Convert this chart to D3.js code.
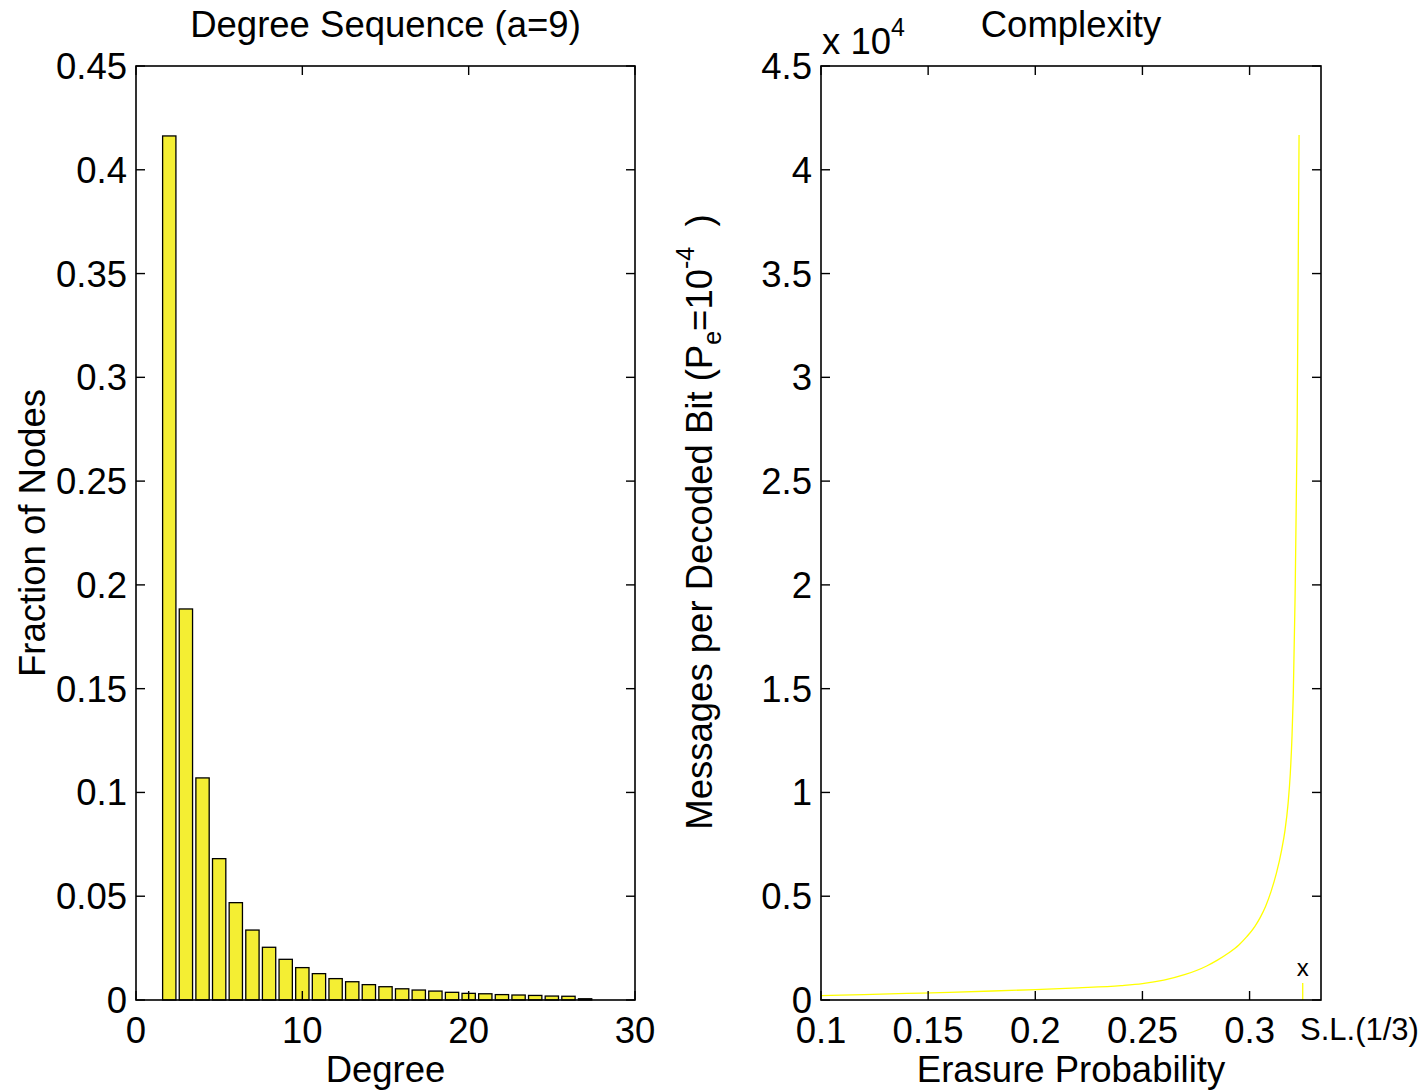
<!DOCTYPE html>
<html>
<head>
<meta charset="utf-8">
<script src="https://cdn.jsdelivr.net/npm/d3@7"></script>
<style>
  html, body { margin: 0; padding: 0; background: #fff; }
  svg text { font-family: "Liberation Sans", Arial, Helvetica, sans-serif; fill: #000; }
</style>
</head>
<body>
<svg id="chart" width="1426" height="1092"></svg>
<script>
// Degree distribution (fraction of nodes per degree)
const degrees = [2, 3, 4, 5, 6, 7, 8, 9, 10, 11, 12, 13, 14, 15, 16, 17, 18, 19, 20, 21, 22, 23, 24, 25, 26, 27];
const fractions = [0.4163, 0.1884, 0.1070, 0.0681, 0.0469, 0.0337, 0.0254, 0.0196, 0.0156, 0.0127,
                   0.0103, 0.0088, 0.0074, 0.0064, 0.0054, 0.0048, 0.0043, 0.0037, 0.0032, 0.0030,
                   0.0026, 0.0024, 0.0022, 0.0019, 0.0018, 0.0006];
const degreeTicks = [0, 10, 20, 30];
const fractionTicks = [0, 0.05, 0.1, 0.15, 0.2, 0.25, 0.3, 0.35, 0.4, 0.45];
const fractionTickLabels = ["0", "0.05", "0.1", "0.15", "0.2", "0.25", "0.3", "0.35", "0.4", "0.45"];

// Decoding complexity vs. erasure probability
const erasureProb = [0.10, 0.12, 0.14, 0.16, 0.18, 0.20, 0.22, 0.24, 0.25, 0.26, 0.27, 0.28,
                     0.285, 0.29, 0.295, 0.2987, 0.3025, 0.305, 0.3075, 0.31, 0.3125, 0.315,
                     0.3165, 0.318, 0.319, 0.3198, 0.3204, 0.3212, 0.3222, 0.3231];
const messages = [210, 262, 315, 372, 433, 500, 585, 695, 790, 960, 1230, 1640,
                  1920, 2250, 2650, 3050, 3550, 3980, 4520, 5220, 6100, 7250,
                  8150, 9500, 10900, 12700, 14700, 19200, 27500, 41675];
const probTicks = [0.1, 0.15, 0.2, 0.25, 0.3];
const probTickLabels = ["0.1", "0.15", "0.2", "0.25", "0.3"];
const msgTicks = [0, 5000, 10000, 15000, 20000, 25000, 30000, 35000, 40000, 45000];
const msgTickLabels = ["0", "0.5", "1", "1.5", "2", "2.5", "3", "3.5", "4", "4.5"];
const limitMarker = { p: 0.3248, h: 820 };

const svg = d3.select("#chart");
const FONT = 36.5;
const SMALL = 25;
const TICK = 9;

function box(g, x0, x1, y0, y1) {
  g.append("rect")
    .attr("x", x0).attr("y", y1)
    .attr("width", x1 - x0).attr("height", y0 - y1)
    .attr("fill", "none").attr("stroke", "#000").attr("stroke-width", 1.6);
}

// ---------- Left panel: degree sequence ----------
const xL = d3.scaleLinear().domain([0, 30]).range([136, 635]);
const yL = d3.scaleLinear().domain([0, 0.45]).range([1000, 66]);
const gL = svg.append("g");

const barW = (xL(1) - xL(0)) * 0.8;
gL.selectAll("rect.bar")
  .data(degrees.map((d, i) => ({ d, v: fractions[i] })))
  .join("rect")
  .attr("class", "bar")
  .attr("x", p => xL(p.d) - barW / 2)
  .attr("y", p => yL(p.v))
  .attr("width", barW)
  .attr("height", p => yL(0) - yL(p.v))
  .attr("fill", "#f4ee33")
  .attr("stroke", "#000")
  .attr("stroke-width", 1.3);

box(gL, xL(0), xL(30), yL(0), yL(0.45));

degreeTicks.forEach(t => {
  gL.append("line").attr("x1", xL(t)).attr("x2", xL(t)).attr("y1", yL(0)).attr("y2", yL(0) - TICK)
    .attr("stroke", "#000").attr("stroke-width", 1.4);
  gL.append("line").attr("x1", xL(t)).attr("x2", xL(t)).attr("y1", yL(0.45)).attr("y2", yL(0.45) + TICK)
    .attr("stroke", "#000").attr("stroke-width", 1.4);
  gL.append("text").attr("x", xL(t)).attr("y", 1043).attr("text-anchor", "middle")
    .attr("font-size", FONT).text(t);
});
fractionTicks.forEach((t, i) => {
  gL.append("line").attr("x1", xL(0)).attr("x2", xL(0) + TICK).attr("y1", yL(t)).attr("y2", yL(t))
    .attr("stroke", "#000").attr("stroke-width", 1.4);
  gL.append("line").attr("x1", xL(30)).attr("x2", xL(30) - TICK).attr("y1", yL(t)).attr("y2", yL(t))
    .attr("stroke", "#000").attr("stroke-width", 1.4);
  gL.append("text").attr("x", xL(0) - 9).attr("y", yL(t)).attr("dy", "0.355em")
    .attr("text-anchor", "end").attr("font-size", FONT).text(fractionTickLabels[i]);
});

gL.append("text").attr("x", (xL(0) + xL(30)) / 2).attr("y", 37).attr("text-anchor", "middle")
  .attr("font-size", FONT).text("Degree Sequence (a=9)");
gL.append("text").attr("x", (xL(0) + xL(30)) / 2).attr("y", 1082).attr("text-anchor", "middle")
  .attr("font-size", FONT).text("Degree");
gL.append("text").attr("transform", `translate(45,${(yL(0) + yL(0.45)) / 2}) rotate(-90)`)
  .attr("text-anchor", "middle").attr("font-size", FONT).text("Fraction of Nodes");

// ---------- Right panel: complexity ----------
const xR = d3.scaleLinear().domain([0.1, 1 / 3]).range([821, 1321]);
const yR = d3.scaleLinear().domain([0, 45000]).range([1000, 66]);
const gR = svg.append("g");

const line = d3.line()
  .x((d, i) => xR(erasureProb[i]))
  .y(d => yR(d))
  .curve(d3.curveMonotoneX);
gR.append("path").datum(messages).attr("d", line)
  .attr("fill", "none").attr("stroke", "#ffff00").attr("stroke-width", 1.3);

// marker near the threshold
gR.append("line")
  .attr("x1", xR(limitMarker.p)).attr("x2", xR(limitMarker.p))
  .attr("y1", yR(0)).attr("y2", yR(limitMarker.h))
  .attr("stroke", "#ffff00").attr("stroke-width", 1.3);
gR.append("text").attr("x", xR(limitMarker.p)).attr("y", 976).attr("text-anchor", "middle")
  .attr("font-size", 24).text("x");

box(gR, xR(0.1), xR(1 / 3), yR(0), yR(45000));

probTicks.forEach((t, i) => {
  gR.append("line").attr("x1", xR(t)).attr("x2", xR(t)).attr("y1", yR(0)).attr("y2", yR(0) - TICK)
    .attr("stroke", "#000").attr("stroke-width", 1.4);
  gR.append("line").attr("x1", xR(t)).attr("x2", xR(t)).attr("y1", yR(45000)).attr("y2", yR(45000) + TICK)
    .attr("stroke", "#000").attr("stroke-width", 1.4);
  gR.append("text").attr("x", xR(t)).attr("y", 1043).attr("text-anchor", "middle")
    .attr("font-size", FONT).text(probTickLabels[i]);
});
gR.append("text").attr("x", 1300).attr("y", 1040).attr("text-anchor", "start")
  .attr("font-size", 31).text("S.L.(1/3)");

msgTicks.forEach((t, i) => {
  gR.append("line").attr("x1", xR(0.1)).attr("x2", xR(0.1) + TICK).attr("y1", yR(t)).attr("y2", yR(t))
    .attr("stroke", "#000").attr("stroke-width", 1.4);
  gR.append("line").attr("x1", xR(1 / 3)).attr("x2", xR(1 / 3) - TICK).attr("y1", yR(t)).attr("y2", yR(t))
    .attr("stroke", "#000").attr("stroke-width", 1.4);
  gR.append("text").attr("x", xR(0.1) - 9).attr("y", yR(t)).attr("dy", "0.355em")
    .attr("text-anchor", "end").attr("font-size", FONT).text(msgTickLabels[i]);
});

// exponent label
const expo = gR.append("text").attr("x", 822).attr("y", 54).attr("font-size", FONT);
expo.append("tspan").text("x 10");
expo.append("tspan").attr("font-size", SMALL).attr("dy", -18).text("4");

gR.append("text").attr("x", (xR(0.1) + xR(1 / 3)) / 2).attr("y", 37).attr("text-anchor", "middle")
  .attr("font-size", FONT).text("Complexity");
gR.append("text").attr("x", (xR(0.1) + xR(1 / 3)) / 2).attr("y", 1082).attr("text-anchor", "middle")
  .attr("font-size", FONT).text("Erasure Probability");

const yl = gR.append("text")
  .attr("transform", `translate(712,522) rotate(-90)`)
  .attr("text-anchor", "middle").attr("font-size", FONT);
yl.append("tspan").text("Messages per Decoded Bit (P");
yl.append("tspan").attr("font-size", SMALL).attr("dy", 9).text("e");
yl.append("tspan").attr("dy", -9).text("=10");
yl.append("tspan").attr("font-size", SMALL).attr("dy", -18).text("-4");
yl.append("tspan").attr("dy", 18).text("\u00a0\u00a0)");
</script>
</body>
</html>
